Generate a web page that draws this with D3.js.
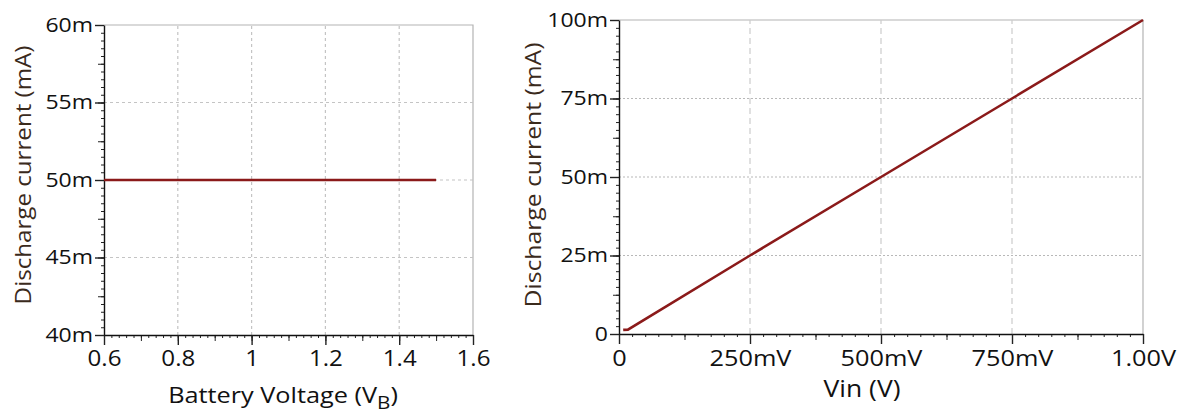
<!DOCTYPE html>
<html>
<head>
<meta charset="utf-8">
<script src="https://cdn.jsdelivr.net/npm/d3@7"></script>
<style>
  body { margin: 0; background: #fff; }
  svg { display: block; font-family: "Open Sans", sans-serif; }
</style>
</head>
<body>
<svg width="1178" height="415"></svg>
<script>
// left panel: discharge current vs battery voltage
var leftV = [0.6, 0.8, 1.0, 1.2, 1.4, 1.5],
    leftI = [0.05, 0.05, 0.05, 0.05, 0.05, 0.05];
var leftXTicks = [0.6, 0.8, 1.0, 1.2, 1.4, 1.6],
    leftXLabels = ["0.6", "0.8", "1", "1.2", "1.4", "1.6"];
var leftYTicks = [0.04, 0.045, 0.05, 0.055, 0.06],
    leftYLabels = ["40m", "45m", "50m", "55m", "60m"];

// right panel: discharge current vs Vin
var rightV = [0.008, 0.017, 0.25, 0.5, 0.75, 1.0],
    rightI = [0.0013, 0.0014, 0.025, 0.05, 0.075, 0.1];
var rightXTicks = [0, 0.25, 0.5, 0.75, 1.0],
    rightXLabels = ["0", "250mV", "500mV", "750mV", "1.00V"];
var rightYTicks = [0, 0.025, 0.05, 0.075, 0.1],
    rightYLabels = ["0", "25m", "50m", "75m", "100m"];

var stretch = 1.15,      // glyphs in the picture are wider than Open Sans
    lineColor = "#8b1a1a",
    titleColor = "#3a2a1c";

var svg = d3.select("svg");

function stretchText(sel) {
  sel.each(function() {
    var t = d3.select(this),
        x = +t.attr("x") || 0,
        y = +t.attr("y") || 0;
    t.attr("x", 0).attr("y", 0)
     .attr("transform", "translate(" + x + "," + y + ") scale(" + stretch + ",1)");
  });
}

function panel(o) {
  var x = d3.scaleLinear().domain(o.xDomain).range(o.xRange),
      y = d3.scaleLinear().domain(o.yDomain).range(o.yRange);
  var g = svg.append("g");
  var x0 = o.xRange[0], x1 = o.xRange[1], y0 = o.yRange[0], y1 = o.yRange[1];

  // frame (top + right, light grey)
  g.append("path")
      .attr("d", "M" + x0 + "," + y1 + "H" + x1 + "V" + y0)
      .attr("fill", "none").attr("stroke", "#b4b4b4").attr("stroke-width", 1.2);

  // grid
  g.selectAll(".vgrid").data(o.xTicks.slice(1, -1)).enter().append("line")
      .attr("x1", x).attr("x2", x).attr("y1", y0).attr("y2", y1)
      .attr("stroke", o.vGridColor).attr("stroke-width", 1.2)
      .attr("stroke-dasharray", o.vDash);
  g.selectAll(".hgrid").data(o.yTicks.slice(1, -1)).enter().append("line")
      .attr("x1", x0).attr("x2", x1).attr("y1", y).attr("y2", y)
      .attr("stroke", o.hGridColor).attr("stroke-width", 1.2)
      .attr("stroke-dasharray", o.hDash);

  // minor and medium ticks
  var xs = (o.xTicks[1] - o.xTicks[0]), ys = (o.yTicks[1] - o.yTicks[0]);
  var minorX = d3.range(o.xDomain[0], o.xDomain[1] + 1e-9, xs / 10),
      minorY = d3.range(o.yDomain[0], o.yDomain[1] + 1e-9, ys / 10);
  g.append("g").attr("transform", "translate(0," + y0 + ")")
      .call(d3.axisBottom(x).tickValues(minorX).tickSize(3).tickFormat(""))
      .call(function(a) { a.select(".domain").remove(); });
  g.append("g").attr("transform", "translate(0," + y0 + ")")
      .call(d3.axisBottom(x).tickValues(minorX.filter(function(d, i) { return i % 5 === 0; })).tickSize(6).tickFormat(""))
      .call(function(a) { a.select(".domain").remove(); });
  g.append("g").attr("transform", "translate(" + x0 + ",0)")
      .call(d3.axisLeft(y).tickValues(minorY).tickSize(3).tickFormat(""))
      .call(function(a) { a.select(".domain").remove(); });
  g.append("g").attr("transform", "translate(" + x0 + ",0)")
      .call(d3.axisLeft(y).tickValues(minorY.filter(function(d, i) { return i % 5 === 0; })).tickSize(6).tickFormat(""))
      .call(function(a) { a.select(".domain").remove(); });

  // main axes
  var xa = g.append("g").attr("transform", "translate(0," + y0 + ")")
      .call(d3.axisBottom(x).tickValues(o.xTicks).tickSize(10).tickSizeOuter(0).tickPadding(6)
        .tickFormat(function(d, i) { return o.xLabels[i]; }));
  var ya = g.append("g").attr("transform", "translate(" + x0 + ",0)")
      .call(d3.axisLeft(y).tickValues(o.yTicks).tickSize(9).tickSizeOuter(0).tickPadding(2)
        .tickFormat(function(d, i) { return o.yLabels[i]; }));
  [xa, ya].forEach(function(a) {
    a.selectAll("line, path").attr("stroke", "#111").attr("stroke-width", 1.4);
    a.selectAll("text").attr("fill", "#111").attr("font-family", "Open Sans");
  });
  xa.selectAll("text").attr("font-size", o.xFont).call(stretchText);
  ya.selectAll("text").attr("font-size", o.yFont).call(stretchText);
  g.selectAll(".tick line").attr("stroke", "#222");

  // series
  var pts = o.vx.map(function(v, i) { return [v, o.vy[i]]; });
  g.append("path").datum(pts)
      .attr("d", d3.line().x(function(d) { return x(d[0]); }).y(function(d) { return y(d[1]); }))
      .attr("fill", "none").attr("stroke", lineColor).attr("stroke-width", 2.6);

  // axis titles
  var yt = g.append("text")
      .attr("transform", "translate(" + o.yTitlePos[0] + "," + o.yTitlePos[1] + ") rotate(-90) scale(" + stretch + ",1)")
      .attr("text-anchor", "middle").attr("font-size", o.yTitleFont).attr("fill", titleColor)
      .text("Discharge current (mA)");
  var xt = g.append("text")
      .attr("transform", "translate(" + o.xTitlePos[0] + "," + o.xTitlePos[1] + ") scale(" + stretch + ",1)")
      .attr("text-anchor", "middle").attr("font-size", o.xTitleFont).attr("fill", "#111");
  o.xTitle(xt);
}

panel({
  xDomain: [0.6, 1.6], xRange: [104, 473],
  yDomain: [0.04, 0.06], yRange: [335, 25],
  xTicks: leftXTicks, xLabels: leftXLabels,
  yTicks: leftYTicks, yLabels: leftYLabels,
  vx: leftV, vy: leftI,
  vGridColor: "#c4c4c4", vDash: "3,3",
  hGridColor: "#c4c4c4", hDash: "3,3",
  xFont: 21, yFont: 20,
  yTitlePos: [31, 175], yTitleFont: 21,
  xTitlePos: [283, 403], xTitleFont: 22,
  xTitle: function(t) {
    t.append("tspan").text("Battery Voltage (V");
    t.append("tspan").attr("font-size", 18).attr("dy", 6).text("B");
    t.append("tspan").attr("dy", -6).text(")");
  }
});

panel({
  xDomain: [0, 1], xRange: [619, 1143],
  yDomain: [0, 0.1], yRange: [334, 20],
  xTicks: rightXTicks, xLabels: rightXLabels,
  yTicks: rightYTicks, yLabels: rightYLabels,
  vx: rightV, vy: rightI,
  vGridColor: "#cccccc", vDash: "6,4",
  hGridColor: "#b8b8b8", hDash: "2,2",
  xFont: 22, yFont: 20,
  yTitlePos: [541, 175], yTitleFont: 21.5,
  xTitlePos: [862, 397], xTitleFont: 23,
  xTitle: function(t) { t.text("Vin (V)"); }
});
</script>
</body>
</html>
